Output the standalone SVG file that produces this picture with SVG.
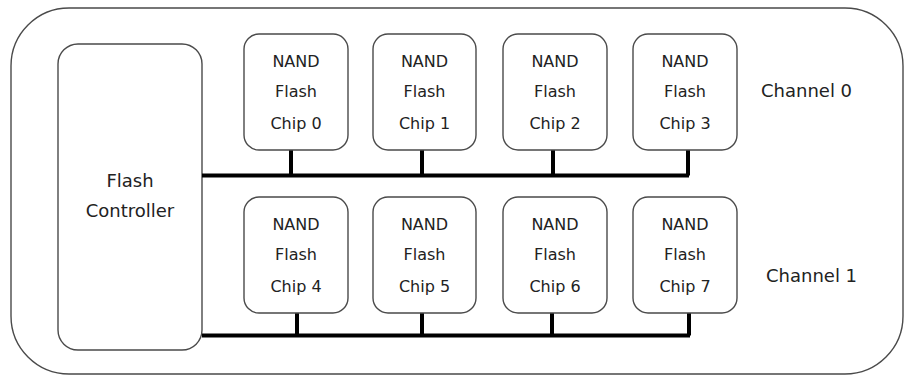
<svg xmlns="http://www.w3.org/2000/svg" width="905" height="376" viewBox="0 0 905 376">
<style>
.box{fill:#fff;stroke:#4a4a4a;stroke-width:1.4}
.chip text{font-family:"DejaVu Sans",Verdana,sans-serif;font-size:16px;fill:#222;text-anchor:middle}
.big{font-family:"DejaVu Sans",Verdana,sans-serif;font-size:18px;fill:#222}
.bus{stroke:#000;stroke-width:4;fill:none}
</style>
<rect width="905" height="376" fill="#fff"/>
<g id="enclosure"><rect class="box" x="11" y="8" width="892" height="366" rx="58"/></g>
<g id="controller">
<rect class="box" x="58" y="44" width="144" height="306" rx="20"/>
<text class="big" x="130" y="187" text-anchor="middle">Flash</text>
<text class="big" x="130" y="217" text-anchor="middle">Controller</text>
</g>
<g id="connectors">
<path class="bus" d="M202 175.5H689M291 150V175.5M422 150V175.5M553 150V175.5M688 150V175.5"/>
<path class="bus" d="M202 335.5H690M297 313V335.5M422 313V335.5M552 313V335.5M689 313V335.5"/>
</g>
<g id="chip0" class="chip"><rect class="box" x="244" y="34" width="104" height="116" rx="15"/><text x="296" y="67">NAND</text><text x="296" y="97">Flash</text><text x="296" y="129">Chip 0</text></g>
<g id="chip1" class="chip"><rect class="box" x="373" y="34" width="103" height="116" rx="15"/><text x="424.5" y="67">NAND</text><text x="424.5" y="97">Flash</text><text x="424.5" y="129">Chip 1</text></g>
<g id="chip2" class="chip"><rect class="box" x="503" y="34" width="104" height="116" rx="15"/><text x="555" y="67">NAND</text><text x="555" y="97">Flash</text><text x="555" y="129">Chip 2</text></g>
<g id="chip3" class="chip"><rect class="box" x="633" y="34" width="104" height="116" rx="15"/><text x="685" y="67">NAND</text><text x="685" y="97">Flash</text><text x="685" y="129">Chip 3</text></g>
<g id="chip4" class="chip"><rect class="box" x="244" y="197" width="104" height="116" rx="15"/><text x="296" y="230">NAND</text><text x="296" y="260">Flash</text><text x="296" y="292">Chip 4</text></g>
<g id="chip5" class="chip"><rect class="box" x="373" y="197" width="103" height="116" rx="15"/><text x="424.5" y="230">NAND</text><text x="424.5" y="260">Flash</text><text x="424.5" y="292">Chip 5</text></g>
<g id="chip6" class="chip"><rect class="box" x="503" y="197" width="104" height="116" rx="15"/><text x="555" y="230">NAND</text><text x="555" y="260">Flash</text><text x="555" y="292">Chip 6</text></g>
<g id="chip7" class="chip"><rect class="box" x="633" y="197" width="104" height="116" rx="15"/><text x="685" y="230">NAND</text><text x="685" y="260">Flash</text><text x="685" y="292">Chip 7</text></g>
<g id="channel0"><text class="big" x="761" y="97">Channel 0</text></g>
<g id="channel1"><text class="big" x="766" y="282">Channel 1</text></g>
</svg>
